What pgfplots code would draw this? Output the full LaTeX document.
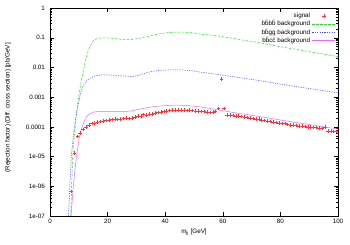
\documentclass[border=0pt]{standalone}
\usepackage{fontspec}
\setmainfont{Liberation Sans}
\usepackage{pgfplots}
\pgfplotsset{compat=1.18}
\definecolor{cred}{rgb}{1,0.2,0.2}
\definecolor{cgreen}{rgb}{0.2,0.85,0.2}
\definecolor{cblue}{rgb}{0.3,0.3,0.95}
\definecolor{cmag}{rgb}{0.95,0.4,0.95}
\begin{document}
\begin{tikzpicture}
\path[use as bounding box] (-50bp,-29bp) rectangle (300bp,216bp);
\begin{axis}[at={(0,0)}, anchor=south west, scale only axis,
 width=288bp, height=208bp,
 ymode=log, xmin=0, xmax=100, ymin=1e-7, ymax=1,
 xtick={0,20,40,60,80,100}, xticklabels={0,20,40,60,80,100},
 ytick={1e-7,1e-6,1e-5,1e-4,1e-3,1e-2,1e-1,1},
 yticklabels={1e-07,1e-06,1e-05,0.0001,0.001,0.01,0.1,1},
 minor ytick={2e-7,3e-7,4e-7,5e-7,6e-7,7e-7,8e-7,9e-7,
  2e-6,3e-6,4e-6,5e-6,6e-6,7e-6,8e-6,9e-6,
  2e-5,3e-5,4e-5,5e-5,6e-5,7e-5,8e-5,9e-5,
  2e-4,3e-4,4e-4,5e-4,6e-4,7e-4,8e-4,9e-4,
  2e-3,3e-3,4e-3,5e-3,6e-3,7e-3,8e-3,9e-3,
  2e-2,3e-2,4e-2,5e-2,6e-2,7e-2,8e-2,9e-2,
  2e-1,3e-1,4e-1,5e-1,6e-1,7e-1,8e-1,9e-1},
 tick align=inside, major tick length=4bp, minor tick length=2bp,
 tick style={black, line width=0.4pt},
 axis line style={line width=0.6pt},
 every tick label/.append style={font=\fontsize{6.3}{7}\selectfont},
 yticklabel style={xshift=-1.5bp},
 xlabel={m$_{\mathrm{jj}}$ [GeV]},
 xlabel style={font=\fontsize{6.3}{7}\selectfont, yshift=2bp},
 ylabel={(Rejection factor)\,(Diff. cross section) [pb/GeV]},
 ylabel style={font=\fontsize{6.3}{7}\selectfont, at={(axis description cs:-0.146,0.52)}, anchor=center},
 legend style={draw=none, fill=none, at={(1,1)}, anchor=north east, xshift=-2bp, yshift=-2bp,
   font=\fontsize{6.3}{7}\selectfont, inner sep=0.5bp, row sep=-2.2bp,
   legend plot pos=right, cells={anchor=east}},
 legend image code/.code={\draw[mark repeat=2,mark phase=2,#1] plot coordinates {(0cm,0cm) (0.4cm,0cm) (0.8cm,0cm)};},
]
\addplot[only marks, mark=+, mark size=1.8bp, cred, line width=0.4pt] coordinates {
(7.5,6.6e-7) (8.5,1.35e-5) (9.5,4.7e-5) (10.5,6.3e-5) (11.5,8.2e-5) (12.5,9.8e-5)
(13.5,1.15e-4) (14.5,1.28e-4) (15.5,1.38e-4) (16.5,1.45e-4) (17.5,1.5e-4) (18.5,1.58e-4)
(19.5,1.65e-4) (20.5,1.68e-4) (21.5,1.75e-4) (22.5,1.8e-4) (23.5,1.76e-4) (24.5,1.84e-4)
(25.5,1.9e-4) (26.5,1.95e-4) (27.5,1.9e-4) (28.5,2.0e-4) (29.5,2.15e-4) (30.5,2.3e-4)
(31.5,2.35e-4) (32.5,2.6e-4) (33.5,2.55e-4) (34.5,2.7e-4) (35.5,2.75e-4) (36.5,2.9e-4)
(37.5,3.05e-4) (38.5,3.2e-4) (39.5,3.3e-4) (40.5,3.4e-4) (41.5,3.55e-4) (42.5,3.7e-4)
(43.5,3.65e-4) (44.5,3.75e-4) (45.5,3.7e-4) (46.5,3.65e-4) (47.5,3.6e-4) (48.5,3.65e-4)
(49.5,3.5e-4) (50.5,3.45e-4) (51.5,3.35e-4) (52.5,3.3e-4) (53.5,3.25e-4) (54.5,3.1e-4)
(55.5,3.0e-4) (56.5,3.1e-4) (57.5,3.3e-4) (58.5,4.2e-4) (59.5,4.0e-3) (60.5,4.2e-4)
(61.5,2.5e-4) (62.5,2.45e-4) (63.5,2.4e-4) (64.5,2.35e-4) (65.5,2.3e-4) (66.5,2.25e-4)
(67.5,2.15e-4) (68.5,2.05e-4) (69.5,1.95e-4) (70.5,1.92e-4) (71.5,1.85e-4) (72.5,1.8e-4)
(73.5,1.72e-4) (74.5,1.65e-4) (75.5,1.58e-4) (76.5,1.5e-4) (77.5,1.48e-4) (78.5,1.42e-4)
(79.5,1.38e-4) (80.5,1.3e-4) (81.5,1.28e-4) (82.5,1.2e-4) (83.5,1.15e-4) (84.5,1.14e-4)
(85.5,1.1e-4) (86.5,1.08e-4) (87.5,1.05e-4) (88.5,1.03e-4) (89.5,1.0e-4) (90.5,9.9e-5)
(91.5,9.6e-5) (92.5,9.4e-5) (93.5,9.2e-5) (94.5,8.8e-5) (95.5,1.0e-4) (96.5,7.2e-5)
(97.5,7.3e-5) (98.5,6.9e-5) (99.5,7.0e-5)
};
\addlegendentry{signal}
\addplot[cgreen, line width=0.5pt, dash pattern=on 2.5bp off 1.5bp] coordinates {
(7.2,1e-7) (7.5,1e-6) (7.9,1e-5) (8.4,5e-5) (9.0,2e-4) (9.5,5e-4) (10,1.1e-3) (10.5,2.2e-3)
(11,4e-3) (11.5,7e-3) (12,1.2e-2) (12.5,2e-2) (13,3e-2) (13.5,4.2e-2) (14,5.4e-2) (14.5,6.6e-2)
(15,7.6e-2) (15.5,8.4e-2) (16,9e-2) (17,9.6e-2) (18,9.8e-2) (20,9.8e-2) (22,9.5e-2) (25,8.8e-2)
(28,8.7e-2) (30,9.2e-2) (32,0.1) (35,0.117) (38,0.135) (40,0.145) (43,0.153) (46,0.155)
(49,0.148) (52,0.133) (55,0.125) (58,0.116) (61,0.104) (64,0.094) (67,0.083) (70,0.075)
(74,0.064) (78,0.054) (82,0.046) (86,0.04) (90,0.034) (95,0.028) (100,0.023)
};
\addlegendentry{b\={b}b\={b} background}
\addplot[cblue, line width=0.5pt, dash pattern=on 1.2bp off 1.2bp] coordinates {
(6.4,1e-7) (6.9,1e-6) (7.4,1e-5) (8,4e-5) (8.5,1e-4) (9,2e-4) (9.5,4e-4) (10,7e-4)
(10.5,1.2e-3) (11,1.8e-3) (12,2.9e-3) (13,3.8e-3) (14,4.4e-3) (15,4.9e-3) (16,5.3e-3)
(18,5.6e-3) (20,5.6e-3) (23,5.4e-3) (26,5.1e-3) (29,5.0e-3) (31,5.5e-3) (33,6.4e-3)
(35,7.2e-3) (38,8.0e-3) (42,8.3e-3) (46,8.3e-3) (49,7.8e-3) (52,7.0e-3) (56,6.2e-3)
(60,5.5e-3) (64,4.8e-3) (68,4.2e-3) (72,3.7e-3) (76,3.2e-3) (80,2.75e-3) (85,2.3e-3)
(90,1.95e-3) (95,1.65e-3) (100,1.4e-3)
};
\addlegendentry{b\={b}gg background}
\addplot[cmag, line width=0.5pt] coordinates {
(7.3,1e-7) (8.1,1e-6) (8.7,4e-6) (9.2,1e-5) (9.8,2.5e-5) (10.4,6e-5) (11,9e-5) (11.5,1.2e-4)
(12,1.6e-4) (12.5,2e-4) (13,2.4e-4) (14,2.8e-4) (15,3.1e-4) (16,3.25e-4) (18,3.3e-4)
(20,3.3e-4) (25,3.25e-4) (28,3.4e-4) (31,3.9e-4) (34,4.5e-4) (37,4.9e-4) (40,5.2e-4)
(44,5.4e-4) (48,5.2e-4) (52,4.7e-4) (56,4.1e-4) (60,3.5e-4) (65,2.9e-4) (70,2.45e-4)
(75,2.05e-4) (80,1.7e-4) (85,1.42e-4) (90,1.2e-4) (95,1.0e-4) (100,8.5e-5)
};
\addlegendentry{b\={b}c\={c} background}
\end{axis}
\end{tikzpicture}
\end{document}
